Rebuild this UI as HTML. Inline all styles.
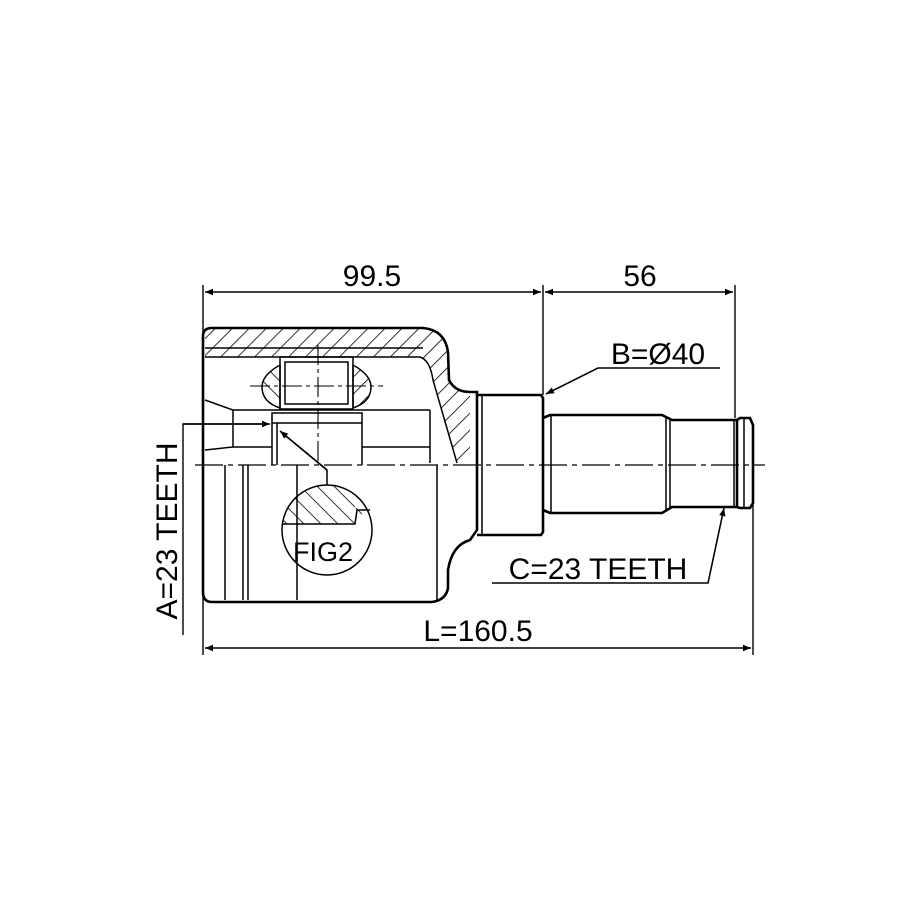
<!DOCTYPE html>
<html><head><style>html,body{margin:0;padding:0;background:#fff}svg{display:block}</style></head>
<body>
<svg width="915" height="915" viewBox="0 0 915 915" xmlns="http://www.w3.org/2000/svg" font-family="Liberation Sans, sans-serif">
<defs>
<pattern id="h" patternUnits="userSpaceOnUse" width="12" height="12" patternTransform="rotate(45)">
<line x1="0" y1="0" x2="0" y2="12" stroke="#000" stroke-width="1.6"/></pattern>
<pattern id="h2" patternUnits="userSpaceOnUse" width="12" height="12" patternTransform="rotate(-45)">
<line x1="0" y1="0" x2="0" y2="12" stroke="#000" stroke-width="1.6"/></pattern>
<marker id="a" viewBox="0 0 10 10" refX="10" refY="5" markerWidth="16" markerHeight="8" orient="auto-start-reverse" markerUnits="userSpaceOnUse"><path d="M0,1 L10,5 L0,9 z" fill="#000"/></marker>
<clipPath id="fc"><circle cx="327" cy="530" r="45"/></clipPath>
</defs>
<g stroke="#000" fill="none" stroke-width="1.4">
<line x1="203" y1="285" x2="203" y2="655"/>
<line x1="543" y1="285" x2="543" y2="395"/>
<line x1="735" y1="285" x2="735" y2="418"/>
<line x1="753" y1="505" x2="753" y2="655"/>
<line x1="205" y1="292" x2="541" y2="292" marker-start="url(#a)" marker-end="url(#a)"/>
<line x1="545" y1="292" x2="733" y2="292" marker-start="url(#a)" marker-end="url(#a)"/>
<line x1="205" y1="648" x2="751" y2="648" marker-start="url(#a)" marker-end="url(#a)"/>
<polyline points="183,635 183,424 268,424"/>
<line x1="183" y1="424" x2="270" y2="424" marker-end="url(#a)"/>
<polyline points="720,368 598,368 546,394"/>
<line x1="598" y1="368" x2="546" y2="394" marker-end="url(#a)"/>
<polyline points="492,583 708,583 724,508"/>
<line x1="708" y1="583" x2="724" y2="508" marker-end="url(#a)"/>
<line x1="195" y1="465" x2="765" y2="465" stroke-dasharray="28,5,5,5" stroke-width="1.2"/>
<line x1="318" y1="345" x2="318" y2="465" stroke-dasharray="20,4,4,4" stroke-width="1.1"/>
<line x1="250" y1="386" x2="383" y2="386" stroke-dasharray="20,4,4,4" stroke-width="1.1"/>
</g>
<path d="M205,335 Q205,328 212,328 L423,328 Q445,330 448,352 L449,380 Q455,392 470,392 L470,463 L457,463 L433,380 Q430,360 420,357 L205,357 Z" fill="url(#h)" stroke="none"/>
<g stroke="#000" fill="none" stroke-width="2.6">
<path d="M212,328 L423,328 Q445,330 448,352 L449,380 Q455,392 470,392 L477,392 L477,530 L470,540 Q452,545 448,570 L448,588 Q446,600 432,602 L212,602 Q203,602 203,592 L203,336 Q203,328 212,328 Z"/>
<path d="M477,395 L541,395 L543,398 L543,532 L541,535 L477,535"/>
<path d="M543,418 L550,415 L662,415 L672,420 L737,420 L737,507 L672,507 L662,513 L550,513 L543,510"/>
<path d="M737,420 L740,418 L750,418 L753,425 L753,503 L750,508 L740,508 L737,507"/>
</g>
<g stroke="#000" fill="none" stroke-width="1.5">
<line x1="482" y1="395" x2="482" y2="535"/>
<line x1="551" y1="415" x2="551" y2="513"/>
<line x1="666" y1="418" x2="666" y2="510"/>
<line x1="670" y1="420" x2="670" y2="507"/>
<line x1="734" y1="420" x2="734" y2="507"/>
<line x1="744" y1="418" x2="744" y2="508"/>
<path d="M205,357 L420,357 Q430,360 433,380 L457,463"/>
<line x1="205" y1="348" x2="423" y2="348"/>
<polyline points="205,400 233,410 233,447 205,450"/>
<line x1="233" y1="410" x2="430" y2="410"/>
<line x1="362" y1="447" x2="430" y2="447"/>
<line x1="430" y1="410" x2="430" y2="463"/>
<line x1="233" y1="447" x2="272" y2="447"/>
<rect x="272" y="413" width="90" height="10"/>
<line x1="272" y1="423" x2="272" y2="465"/>
<line x1="362" y1="423" x2="362" y2="465"/>
<line x1="277" y1="423" x2="277" y2="465"/>
<rect x="280" y="357" width="73" height="52"/>
<rect x="285" y="362" width="63" height="42"/>
<path d="M280,365 Q262,375 262,387 Q262,402 280,408 Z" fill="url(#h2)"/>
<path d="M353,365 Q371,375 371,387 Q371,402 353,408 Z" fill="url(#h)"/>
<line x1="225" y1="465" x2="225" y2="600"/>
<line x1="243" y1="465" x2="243" y2="600"/>
<line x1="248" y1="465" x2="248" y2="600"/>
<line x1="297" y1="465" x2="297" y2="600"/>
<line x1="437" y1="465" x2="437" y2="600"/>
<polyline points="327,485 327,470 281,432"/>
<line x1="327" y1="470" x2="280" y2="431" marker-end="url(#a)"/>
<g clip-path="url(#fc)"><path d="M270,480 L355,480 L355,508 L362,508 L362,524 L270,524 Z" fill="url(#h2)" stroke="none"/></g>
<circle cx="327" cy="530" r="45" fill="none"/>
<polyline points="283,524 355,524 357,510 370,510"/>
</g>
<g font-size="30" fill="#000">
<text x="372" y="286" text-anchor="middle">99.5</text>
<text x="640" y="286" text-anchor="middle">56</text>
<text x="478" y="641" text-anchor="middle">L=160.5</text>
<text x="658" y="364" text-anchor="middle">B=Ø40</text>
<text x="598" y="579" text-anchor="middle">C=23 TEETH</text>
<text x="323" y="561" text-anchor="middle" font-size="27">FIG2</text>
<text transform="translate(177,531) rotate(-90)" text-anchor="middle">A=23 TEETH</text>
</g>
</svg>
</body></html>
